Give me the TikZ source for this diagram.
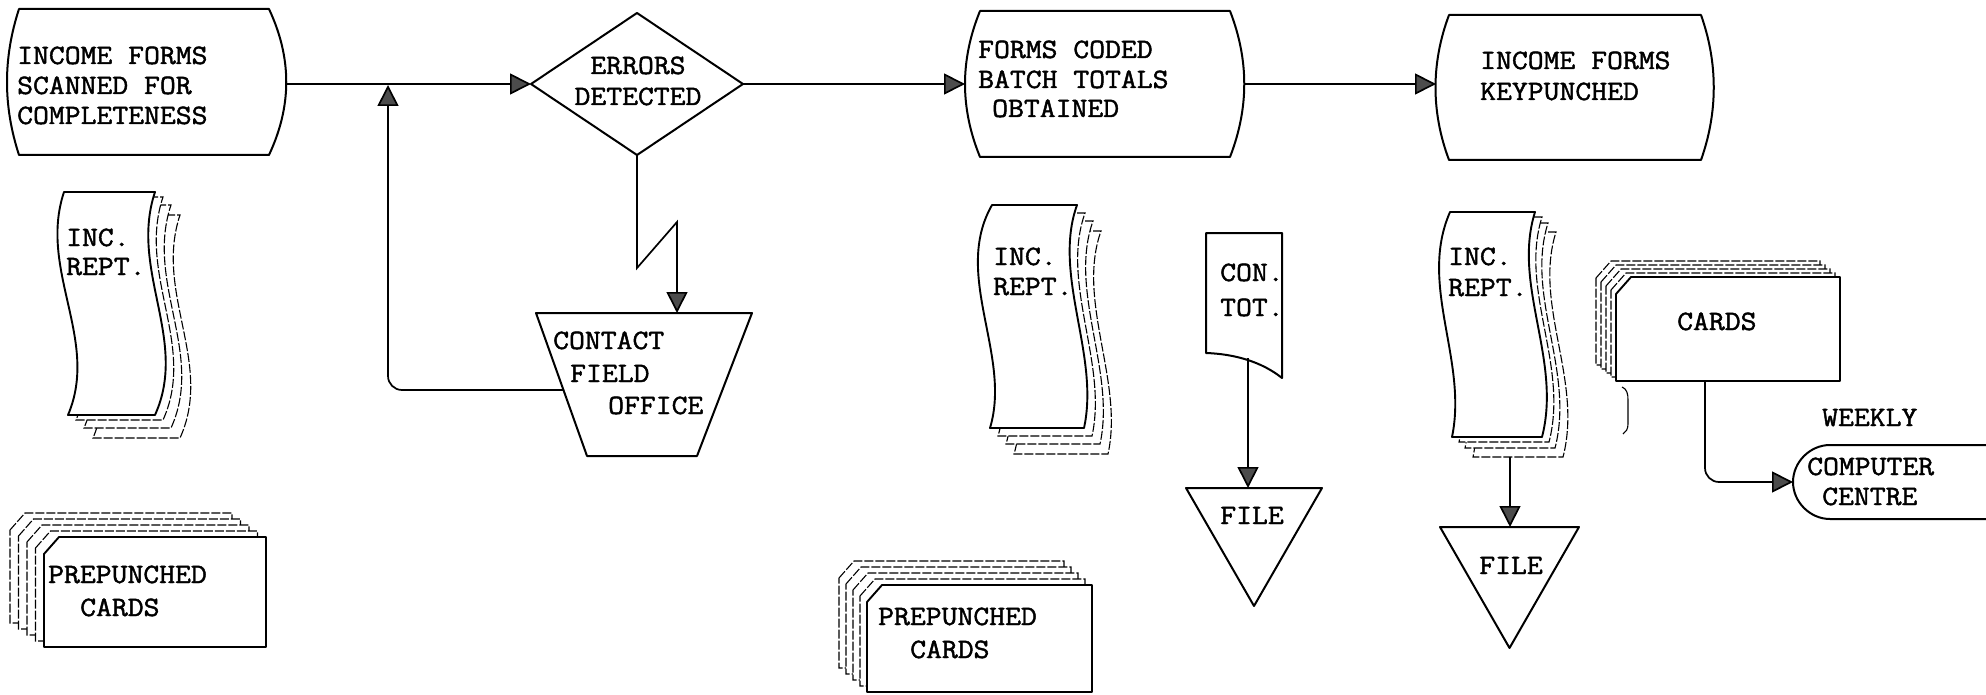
\documentclass[tikz,border=0pt]{standalone}
\usepackage{fontspec}
\newfontfamily\tw[FakeStretch=1.1,FakeBold=1.6]{Latin Modern Mono}
\usetikzlibrary{arrows.meta}
\newcommand\docA[1]{\draw[#1] (64,192) -- (155,192) .. controls (129,270) and (189,340) .. (155,415) -- (68,415) .. controls (100,340) and (38,270) .. cycle;}
\newcommand\docB[1]{\draw[#1] (992,205) -- (1077,205) .. controls (1052,275) and (1100,355) .. (1084,428) -- (990,428) .. controls (1012,355) and (952,275) .. cycle;}
\newcommand\docC[1]{\draw[#1] (1450,212) -- (1535,212) .. controls (1512,285) and (1562,360) .. (1542,437) -- (1452,437) .. controls (1468,360) and (1418,285) .. cycle;}
\newcommand\cardshape[5]{\draw[#5] ({#1},{#2+17}) -- ({#1+15},{#2}) -- ({#1+#3},{#2}) -- ({#1+#3},{#2+#4}) -- ({#1},{#2+#4}) -- cycle;}
\begin{document}
\begin{tikzpicture}[x=1pt,y=-1pt,
  shp/.style={draw=black,line width=2pt,line join=round},
  back/.style={draw=black,line width=1.1pt,fill=white,dash pattern=on 9pt off 2pt},
  front/.style={draw=black,line width=1.9pt,fill=white,line join=round},
  conn/.style={draw=black,line width=1.7pt},
  arr/.style={-{Triangle[length=21pt,width=21pt,fill=black!70]}},
  txt/.style={font=\tw\fontsize{28}{30}\selectfont,inner sep=0pt,anchor=base west},
  ctxt/.style={txt,anchor=base}]
\useasboundingbox (0,0) rectangle (1986,695);
\fill[white] (0,0) rectangle (1986,695);

% ---- process boxes
\draw[shp] (19,9) -- (269,9) .. controls (292,58) and (292,106) .. (269,155) -- (19,155) .. controls (3,106) and (3,58) .. cycle;
\draw[shp] (980,11) -- (1230,11) .. controls (1249,60) and (1249,108) .. (1230,157) -- (980,157) .. controls (960,108) and (960,60) .. cycle;
\draw[shp] (1449,15) -- (1701,15) .. controls (1718,63) and (1718,112) .. (1701,160) -- (1449,160) .. controls (1431,112) and (1431,63) .. cycle;

% ---- decision
\draw[shp] (637,13) -- (743,84) -- (637,155) -- (531,84) -- cycle;
% ---- manual operation (trapezoid)
\draw[shp] (536,313) -- (752,313) -- (697,456) -- (587,456) -- cycle;

% ---- document stacks
\docA{back,shift={(25,23)}}
\docA{back,shift={(16,13)}}
\docA{back,shift={(8,5)}}
\docA{front}
\docB{back,shift={(24,26)}}
\docB{back,shift={(16,16)}}
\docB{back,shift={(8,8)}}
\docB{front}
\docC{back,shift={(21,20)}}
\docC{back,shift={(13,11)}}
\docC{back,shift={(7,5)}}
\docC{front}

% ---- single document
\draw[shp] (1206,233) -- (1282,233) -- (1282,378) .. controls (1262,362) and (1235,354) .. (1206,353) -- cycle;

% ---- files (offline storage)
\draw[shp] (1186,488) -- (1322,488) -- (1254,606) -- cycle;
\draw[shp] (1440,527) -- (1579,527) -- (1509.5,648) -- cycle;

% ---- card decks
\cardshape{10}{513}{222}{110}{back}
\cardshape{18.5}{519}{222}{110}{back}
\cardshape{27}{525}{222}{110}{back}
\cardshape{35.5}{531}{222}{110}{back}
\cardshape{44}{537}{222}{110}{front}
\cardshape{839}{561}{225}{107}{back}
\cardshape{846}{567}{225}{107}{back}
\cardshape{853}{573}{225}{107}{back}
\cardshape{860}{579}{225}{107}{back}
\cardshape{867}{585}{225}{107}{front}
\cardshape{1596}{261}{224}{104}{back}
\cardshape{1601}{265}{224}{104}{back}
\cardshape{1606}{269}{224}{104}{back}
\cardshape{1611}{273}{224}{104}{back}
\cardshape{1616}{277}{224}{104}{front}
\draw[line width=1.1pt] (1622,387) .. controls (1627,389) and (1628,394) .. (1628,400) -- (1628,424) .. controls (1628,429) and (1626,432) .. (1623,434);

% ---- terminal
\draw[shp] (1990,445) -- (1830,445) .. controls (1810,445) and (1793,462) .. (1793,482) .. controls (1793,502) and (1810,519) .. (1830,519) -- (1990,519);

% ---- connection points
\coordinate (b1E) at (286,84);
\coordinate (diaW) at (531,84);
\coordinate (diaE) at (743,84);
\coordinate (diaS) at (637,155);
\coordinate (b3W) at (965,84);
\coordinate (b3E) at (1244,84);
\coordinate (b4W) at (1436,84);
\coordinate (zigA) at (637,268);
\coordinate (zigB) at (677,222);
\coordinate (trapN) at (677,313);
\coordinate (fbS) at (563,390);
\coordinate (fbE) at (388,85);
\coordinate (ctS) at (1248,358);
\coordinate (fileAN) at (1248,488);
\coordinate (dcS) at (1510,457);
\coordinate (fileBN) at (1510,527);
\coordinate (cardS) at (1705,381);
\coordinate (compW) at (1793,482);

% ---- connectors
\draw[conn,arr] (b1E) -- (diaW);
\draw[conn,arr] (diaE) -- (b3W);
\draw[conn,arr] (b3E) -- (b4W);
\draw[conn,arr] (diaS) -- (zigA) -- (zigB) -- (trapN);
\draw[conn,arr,rounded corners=14pt] (fbS) -| (fbE);
\draw[conn,arr] (ctS) -- (fileAN);
\draw[conn,arr] (dcS) -- (fileBN);
\draw[conn,arr,rounded corners=14pt] (cardS) |- (compW);

% ---- texts
\node[txt] (t1a) at (17,64) {INCOME FORMS};
\node[txt] (t1b) at (17,94) {SCANNED FOR};
\node[txt] (t1c) at (17,124) {COMPLETENESS};
\node[ctxt] (t2a) at (638,74) {ERRORS};
\node[ctxt] (t2b) at (638,105) {DETECTED};
\node[txt] (t3a) at (553,349) {CONTACT};
\node[txt] (t3b) at (570,382) {FIELD};
\node[txt] (t3c) at (608,414) {OFFICE};
\node[txt] (t4a) at (978,58) {FORMS CODED};
\node[txt] (t4b) at (978,88) {BATCH TOTALS};
\node[txt] (t4c) at (992,117) {OBTAINED};
\node[txt] (t5a) at (1480,69) {INCOME FORMS};
\node[txt] (t5b) at (1480,100) {KEYPUNCHED};
\node[txt] (t6a) at (66,246) {INC.};
\node[txt] (t6b) at (66,275) {REPT.};
\node[txt] (t7a) at (993,265) {INC.};
\node[txt] (t7b) at (993,295) {REPT.};
\node[txt] (t8a) at (1220,281) {CON.};
\node[txt] (t8b) at (1220,316) {TOT.};
\node[ctxt] (t9) at (1252,524) {FILE};
\node[txt] (t10a) at (48,583) {PREPUNCHED};
\node[txt] (t10b) at (80,616) {CARDS};
\node[txt] (t11a) at (878,625) {PREPUNCHED};
\node[txt] (t11b) at (910,658) {CARDS};
\node[txt] (t12a) at (1448,265) {INC.};
\node[txt] (t12b) at (1448,296) {REPT.};
\node[txt] (t13) at (1677,330) {CARDS};
\node[txt] (t14) at (1822,426) {WEEKLY};
\node[txt] (t15a) at (1807,475) {COMPUTER};
\node[txt] (t15b) at (1822,505) {CENTRE};
\node[ctxt] (t16) at (1511,574) {FILE};
\end{tikzpicture}
\end{document}
